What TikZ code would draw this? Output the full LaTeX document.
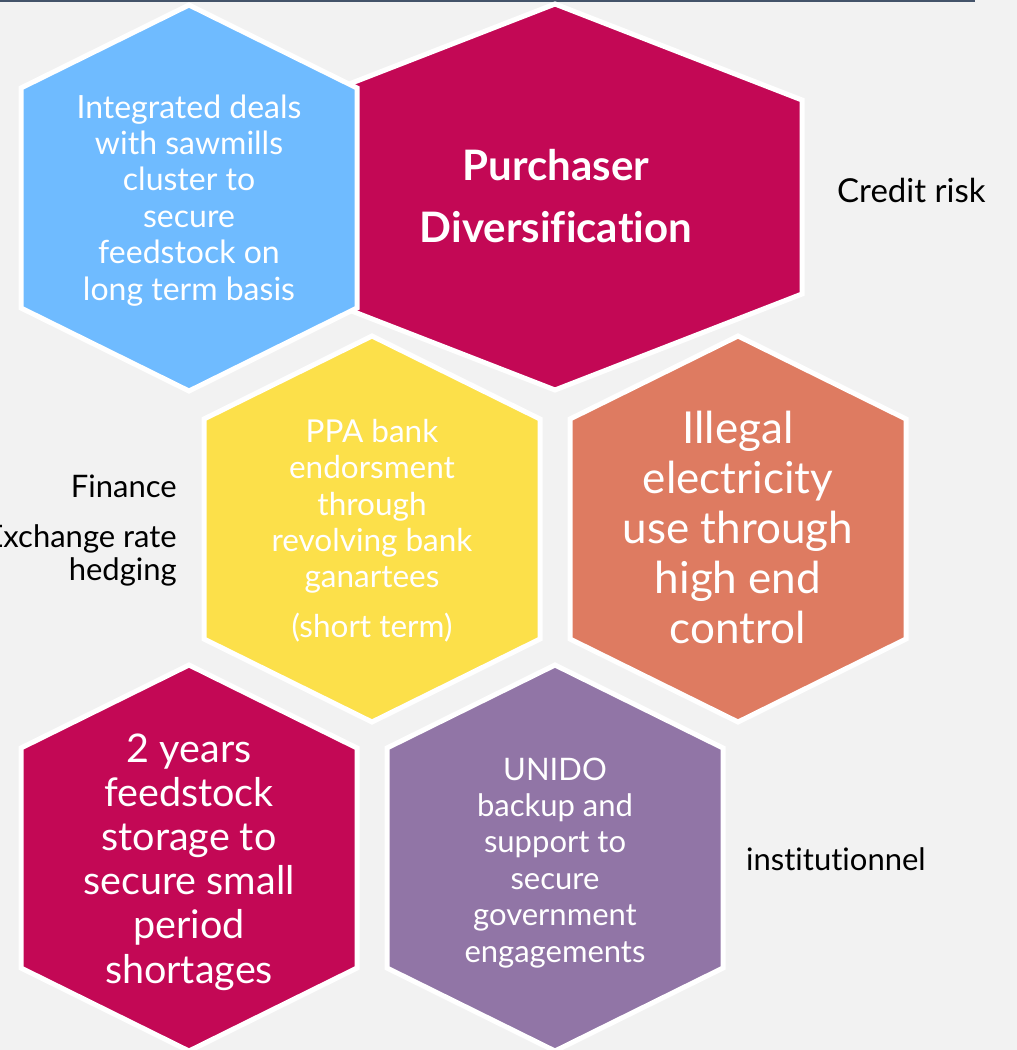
\documentclass[tikz,border=0pt]{standalone}
\usepackage{fontspec}
\setmainfont{Lato}[Ligatures=NoCommon]
\definecolor{paper}{RGB}{242,242,242}
\definecolor{rulecol}{RGB}{68,84,106}
\definecolor{hexblue}{RGB}{111,187,255}
\definecolor{hexcrimson}{RGB}{195,8,85}
\definecolor{hexyellow}{RGB}{252,224,74}
\definecolor{hexorange}{RGB}{222,123,97}
\definecolor{hexpurple}{RGB}{145,117,166}
\tikzset{
  hexa/.style={draw=white, line width=5pt, line join=miter},
  hextext/.style={text=white, align=center, inner sep=0pt, anchor=base},
  sidelabel/.style={text=black, inner sep=0pt}
}
\begin{document}
\begin{tikzpicture}[x=1pt, y=-1pt]
    \def\w{168}
    \def\v{193}
    \def\c{110}
    \useasboundingbox (0,0) rectangle (1017,1050);
    \fill[paper] (0,0) rectangle (1017,1050);
    \draw[rulecol, line width=1.6pt] (0,0.8) -- (975,0.8);
    \draw[hexa, fill=hexcrimson] (555,197) ++(0,-193) -- ++(247,96) -- ++(0,194) -- ++(-247,96) -- ++(-247,-96) -- ++(0,-194) -- cycle;
    \draw[hexa, fill=hexblue] (189,198) ++(0,-\v) -- ++(\w,\v-\c) -- ++(0,2*\c) -- ++(-\w,\v-\c) -- ++(-\w,\c-\v) -- ++(0,-2*\c) -- cycle;
    \draw[hexa, fill=hexyellow] (372,529) ++(0,-\v) -- ++(\w,\v-\c) -- ++(0,2*\c) -- ++(-\w,\v-\c) -- ++(-\w,\c-\v) -- ++(0,-2*\c) -- cycle;
    \draw[hexa, fill=hexorange] (738,529) ++(0,-\v) -- ++(\w,\v-\c) -- ++(0,2*\c) -- ++(-\w,\v-\c) -- ++(-\w,\c-\v) -- ++(0,-2*\c) -- cycle;
    \draw[hexa, fill=hexcrimson] (189,858) ++(0,-\v) -- ++(\w,\v-\c) -- ++(0,2*\c) -- ++(-\w,\v-\c) -- ++(-\w,\c-\v) -- ++(0,-2*\c) -- cycle;
    \draw[hexa, fill=hexpurple] (555,858) ++(0,-\v) -- ++(\w,\v-\c) -- ++(0,2*\c) -- ++(-\w,\v-\c) -- ++(-\w,\c-\v) -- ++(0,-2*\c) -- cycle;
    \node[hextext, font=\fontsize{32}{36.4}\selectfont] (sawmills) at (189,300) {Integrated deals\\with sawmills\\cluster to\\secure\\feedstock on\\long term basis};
    \node[hextext, font=\fontsize{42}{62}\selectfont\bfseries] (purchaser) at (556,242) {Purchaser\\Diversification};
    \node[hextext, font=\fontsize{31.5}{36.3}\selectfont] (ppa) at (372,637) {PPA bank\\endorsment\\through\\revolving bank\\ganartees\\[13pt](short term)};
    \node[hextext, font=\fontsize{44}{50}\selectfont] (illegal) at (738,643) {Illegal\\electricity\\use through\\high end\\control};
    \node[hextext, font=\fontsize{39.5}{44.2}\selectfont] (storage) at (189,983) {2 years\\feedstock\\storage to\\secure small\\period\\shortages};
    \node[hextext, font=\fontsize{31}{36.4}\selectfont] (unido) at (555,962) {UNIDO\\backup and\\support to\\secure\\government\\engagements};
    \node[sidelabel, anchor=base west, font=\fontsize{33}{36}\selectfont] (creditrisk) at (837,202) {Credit risk};
    \node[sidelabel, anchor=base east, align=right, font=\fontsize{31}{33}\selectfont] (finance) at (177,580) {Finance\\[17pt]Exchange rate\\hedging};
    \node[sidelabel, anchor=base west, font=\fontsize{31}{36}\selectfont] (institutional) at (746,870) {institutionnel};
\end{tikzpicture}
\end{document}
